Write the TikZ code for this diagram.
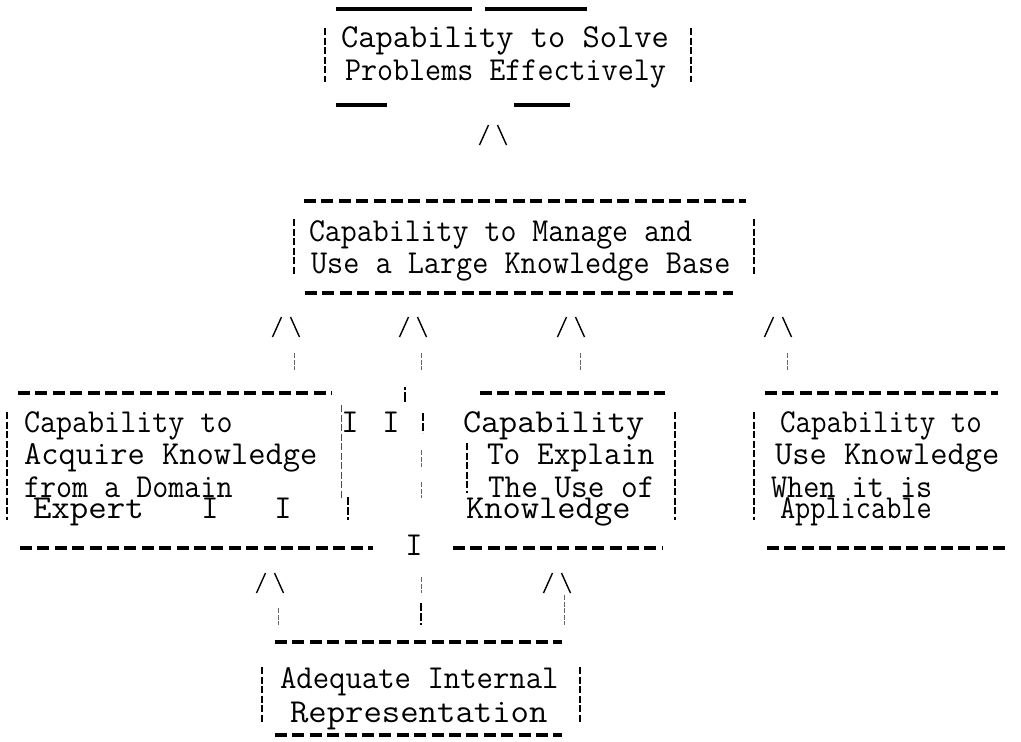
\documentclass[tikz,border=0pt]{standalone}
\begin{document}
\begin{tikzpicture}[x=1pt,y=-1pt,
  txt/.style={inner sep=0pt,outer sep=0pt,anchor=base west,font=\ttfamily\fontsize{33.5}{33.5}\selectfont},
  txtc/.style={txt,anchor=base},
  hdash/.style={line width=3.2pt,dash pattern=on 12pt off 5.4pt},
  hsolid/.style={line width=3.2pt},
  vbar/.style={line width=1.6pt,dash pattern=on 7pt off 2.5pt},
  vbold/.style={line width=2.4pt,dash pattern=on 8pt off 2pt},
  stem/.style={line width=0.7pt,black!60,dash pattern=on 5pt off 1.5pt},
  caret/.pic={\draw[line width=1.4pt] (-13.5,10) -- (-4.5,-10) (4.5,-10) -- (13.5,10);}
]
\newcommand\sx[2]{\scalebox{#1}[1]{#2}}
\useasboundingbox (0,0) rectangle (1021,742);

% ---------- top box
\node[txt] (t1) at (341,47) {Capability to Solve};
\node[txt] (t2) at (345,80) {\sx{0.93}{Problems Effectively}};
\draw[hsolid] (336,9) -- (472,9) (485,9) -- (587,9);
\draw[hsolid] (336,105) -- (387,105) (514,105) -- (570,105);
\draw[vbar] (325,28) -- (325,82) (691,28) -- (691,82);
\pic at (493,135) {caret};

% ---------- manage box
\node[txt] (m1) at (309,241) {\sx{0.925}{Capability to Manage and}};
\node[txt] (m2) at (311,273) {\sx{0.935}{Use a Large Knowledge Base}};
\draw[hdash] (304,201) -- (746,201);
\draw[hdash] (305,293) -- (733,293);
\draw[vbar] (294,219) -- (294,275) (754,219) -- (754,275);

% ---------- arrows into manage box
\pic at (286,327) {caret};
\pic at (413,327) {caret};
\pic at (571,327) {caret};
\pic at (778,327) {caret};
\coordinate (s1a) at (294,353); \coordinate (s1b) at (294,370);
\coordinate (s2a) at (421,353); \coordinate (s2b) at (421,370);
\coordinate (s3a) at (580,353); \coordinate (s3b) at (580,370);
\coordinate (s4a) at (787,353); \coordinate (s4b) at (787,370);
\draw[stem] (s1a) -- (s1b) (s2a) -- (s2b) (s3a) -- (s3b) (s4a) -- (s4b);

% ---------- acquire box
\node[txt] (a1) at (24,432) {\sx{0.93}{Capability to}};
\node[txt] (a2) at (24,464) {Acquire Knowledge};
\node[txt] (a3) at (24,497) {\sx{0.93}{from a Domain}};
\node[txt] (a4) at (33,518) {\sx{1.07}{Expert}};
\node[txtc] (ai1) at (210,518) {I};
\node[txtc] (ai2) at (283,518) {I};
\draw[hdash] (18,393) -- (332,393);
\draw[hdash] (20,548) -- (373,548);
\draw[vbar] (7,412) -- (7,520);
\draw[vbar,line width=1pt,black!70] (341,405) -- (341,498);
\draw[vbold] (348,497) -- (348,520);

% ---------- middle stray marks
\node[txtc] (mi1) at (350,432) {I};
\node[txtc] (mi2) at (391,432) {I};
\node[txtc] (mi3) at (414,555) {I};
\draw[vbold] (423,413) -- (423,433);
\draw[line width=2pt,dash pattern=on 3pt off 2pt on 10pt off 1pt] (405,387) -- (405,402);
\coordinate (c1a) at (421,450); \coordinate (c1b) at (421,467);
\coordinate (c2a) at (421,482); \coordinate (c2b) at (421,498);
\coordinate (c3a) at (421,577); \coordinate (c3b) at (421,593);
\coordinate (c4a) at (421,603); \coordinate (c4b) at (421,625);
\draw[stem] (c1a) -- (c1b) (c2a) -- (c2b) (c3a) -- (c3b);
\draw[vbold] (c4a) -- (c4b);

% ---------- explain box
\node[txt] (e1) at (463,432) {\sx{1.05}{Capability}};
\node[txt] (e2) at (487,464) {\sx{0.97}{To Explain}};
\node[txt] (e3) at (488,497) {\sx{0.965}{The Use of}};
\node[txt] (e4) at (466,518) {\sx{1.06}{Knowledge}};
\draw[hdash] (480,393) -- (665,393);
\draw[hdash] (453,548) -- (663,548);
\draw[vbar] (675,412) -- (675,520);
\draw[vbar,line width=1.1pt] (467,443) -- (467,493);

% ---------- use box
\node[txt] (u1) at (780,432) {\sx{0.9}{Capability to}};
\node[txt] (u2) at (775,464) {Use Knowledge};
\node[txt] (u3) at (771,497) {\sx{0.935}{When it is}};
\node[txt] (u4) at (780,518) {\sx{0.88}{Applicable}};
\draw[hdash] (765,393) -- (998,393);
\draw[hdash] (767,548) -- (1008,548);
\draw[vbar] (754,412) -- (754,520);

% ---------- arrows into acquire / explain
\pic at (270,583) {caret};
\pic at (557,583) {caret};
\coordinate (b1a) at (278,608); \coordinate (b1b) at (278,625);
\coordinate (b2a) at (564,595); \coordinate (b2b) at (564,625);
\draw[stem] (b1a) -- (b1b) (b2a) -- (b2b);

% ---------- representation box
\node[txt] (r1) at (280,688) {\sx{0.95}{Adequate Internal}};
\node[txt] (r2) at (290,722) {\sx{1.066}{Representation}};
\draw[hdash] (275,642) -- (562,642);
\draw[hdash] (275,735) -- (562,735);
\draw[vbar] (262,667) -- (262,722) (580,667) -- (580,722);
\end{tikzpicture}
\end{document}
